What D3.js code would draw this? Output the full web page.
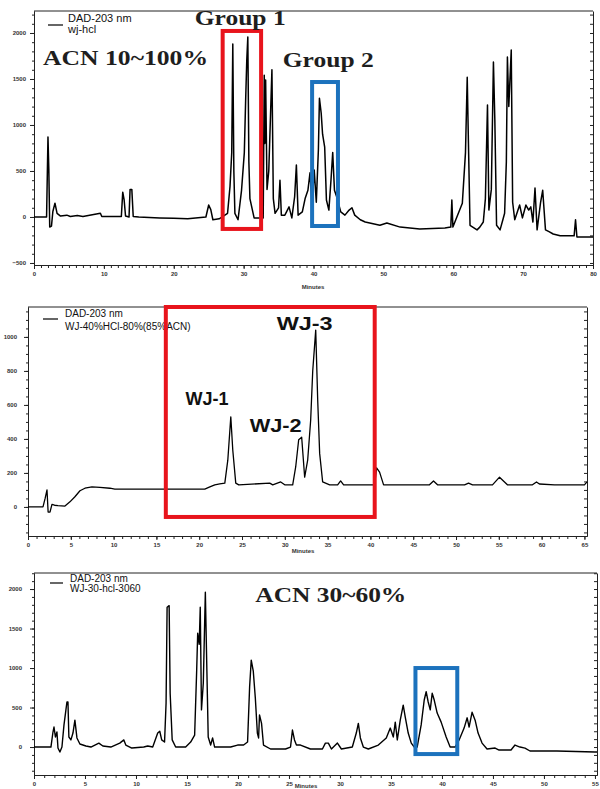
<!DOCTYPE html>
<html>
<head>
<meta charset="utf-8">
<script src="https://cdn.jsdelivr.net/npm/d3@7"></script>
<style>
body { margin: 0; background: #fff; }
.frame { fill: none; stroke: #222; stroke-width: 1; }
.trace { fill: none; stroke: #000; stroke-linejoin: round; }
.axis path, .axis line { stroke: #222; }
.axis text { font-family: "Liberation Sans", Arial, sans-serif; font-size: 6px; font-weight: bold; fill: #333; }
.legend { font-family: "Liberation Sans", Arial, sans-serif; fill: #111; }
.acn { font-family: "Liberation Serif", "Times New Roman", serif; font-weight: bold; font-size: 22px; fill: #1e1e1e; }
.peak { font-family: "Liberation Sans", Arial, sans-serif; font-weight: bold; font-size: 18px; fill: #111; }
.xtitle { font-family: "Liberation Sans", Arial, sans-serif; font-size: 6px; font-weight: bold; fill: #333; }
</style>
</head>
<body>
<script>
// Define SVG dimensions
var width = 600,
    height = 789;

// Chromatogram traces, [minutes, mAU]
var trace1 = [
  [0,0],[1.8,0],[2.0,870],[2.12,520],[2.25,-110],[2.5,-100],[2.7,60],[3.0,150],[3.3,40],[3.8,10],
  [4.7,20],[5.2,5],[6.2,15],[7.0,5],[9.5,40],[9.7,5],[12.5,5],[12.7,270],[12.9,185],[13.1,10],
  [13.6,0],[13.75,300],[14.0,300],[14.2,5],[15,0],[18,-10],[20,-15],[22,-20],[24.6,0],[25.0,130],
  [25.3,80],[25.6,-30],[26.5,-20],[27.7,40],[28.05,330],[28.3,700],[28.45,1880],[28.6,500],[28.75,40],
  [29.2,-30],[29.7,290],[30.1,700],[30.3,1300],[30.45,1700],[30.6,1956],[30.75,600],[30.9,200],
  [31.5,-10],[32.8,-10],[32.95,1540],[33.05,800],[33.15,1490],[33.35,300],[33.6,500],[34.05,1600],
  [34.25,200],[34.5,40],[35.0,100],[35.2,400],[35.4,20],[35.9,20],[36.5,110],[36.9,-10],[37.3,220],
  [37.55,565],[37.8,20],[38.4,55],[38.8,200],[39.2,290],[39.5,480],[39.8,120],[40.1,510],[40.4,160],
  [40.7,730],[40.85,1290],[41.1,1130],[41.3,900],[41.6,760],[41.85,185],[42.2,75],[42.5,400],[42.75,700],
  [43.0,290],[43.4,200],[43.9,55],[44.5,20],[45.1,75],[45.5,100],[45.9,20],[46.7,-30],[47.4,-55],
  [49.5,-90],[50.5,-65],[52.4,-110],[55.2,-130],[58.8,-120],[59.65,-110],[59.8,185],[59.95,-110],
  [61.3,150],[61.75,700],[62.0,1520],[62.15,900],[62.4,-90],[63.4,-140],[63.8,-110],[64.3,-55],
  [64.6,200],[64.9,1217],[65.1,75],[65.45,300],[65.75,1685],[65.95,1060],[66.2,-90],[66.7,-140],
  [67.1,-30],[67.35,40],[67.6,600],[67.75,1740],[67.95,1200],[68.3,1815],[68.5,160],[68.8,-30],
  [69.5,130],[69.9,-10],[70.4,130],[70.8,75],[71.1,110],[71.4,-55],[71.7,315],[72.0,-140],[72.5,160],
  [72.8,290],[73.2,-140],[73.7,-160],[74.3,-185],[75.3,-205],[77.3,-205],[77.5,-30],[77.7,-217],[80,-217]
];

var trace2 = [
  [0,0],[1.75,0],[2.0,50],[2.22,100],[2.35,-30],[2.57,-30],[2.8,15],[3.1,10],[3.5,8],[4.32,5],
  [4.9,30],[5.48,60],[6.07,95],[6.65,110],[7.47,118],[8.4,115],[9.57,110],[10.15,105],[15.4,105],
  [20.65,105],[21.24,118],[21.82,130],[22.4,135],[22.99,140],[23.34,275],[23.69,530],[23.92,335],
  [24.27,140],[24.62,130],[28.24,140],[28.59,130],[29.52,147],[29.99,130],[30.92,130],[31.27,235],
  [31.62,395],[31.97,410],[32.32,175],[32.67,275],[33.02,510],[33.26,800],[33.61,1040],[33.84,630],
  [34.07,315],[34.42,147],[35.24,130],[36.17,130],[36.52,153],[36.87,130],[40.49,130],[40.72,230],
  [41.07,205],[41.54,130],[46.9,130],[47.37,153],[47.84,130],[51.0,130],[51.46,140],[51.93,130],
  [54.26,130],[55.08,175],[56.0,130],[58.93,130],[59.4,147],[59.74,135],[61.5,130],[65.0,130],[65.3,147]
];

var trace3 = [
  [0,0],[1.66,0],[1.86,190],[1.96,253],[2.1,127],[2.25,190],[2.35,-13],[2.54,-63],[2.74,0],[2.94,280],
  [3.13,470],[3.23,570],[3.33,570],[3.42,127],[3.62,90],[3.82,177],[4.01,340],[4.21,115],[4.5,38],
  [5.09,13],[5.58,0],[6.36,50],[6.75,13],[7.53,0],[8.41,50],[8.81,90],[9.0,25],[9.59,-13],[10.76,0],
  [11.15,13],[11.64,0],[12.13,177],[12.33,200],[12.52,90],[12.8,63],[12.95,557],[13.05,1770],
  [13.25,1790],[13.35,680],[13.55,90],[13.89,0],[14.87,0],[15.36,63],[15.75,150],[15.95,970],
  [16.05,1440],[16.2,1300],[16.3,1770],[16.42,470],[16.6,810],[16.8,1960],[16.95,970],[17.08,127],
  [17.32,25],[17.51,115],[17.71,0],[19.28,0],[19.96,25],[20.55,25],[20.94,63],[21.14,760],[21.3,1100],
  [21.5,960],[21.7,620],[21.9,177],[22.02,115],[22.11,405],[22.31,300],[22.5,25],[23.19,-25],
  [24.66,-25],[25.15,0],[25.34,215],[25.54,90],[25.73,25],[26.13,25],[27.1,-25],[28.28,-25],[28.57,50],
  [28.86,50],[29.16,-25],[29.75,50],[30.14,-25],[31.21,0],[31.6,177],[31.8,300],[32.0,115],[32.29,0],
  [32.78,-25],[33.76,25],[34.54,115],[34.93,240],[35.23,127],[35.42,315],[35.62,90],[35.91,340],
  [36.2,530],[36.4,380],[36.69,177],[36.99,50],[37.28,0],[37.57,0],[37.96,280],[38.26,595],[38.45,700],
  [38.65,570],[38.85,470],[39.04,680],[39.24,595],[39.53,430],[39.92,315],[40.41,127],[40.8,0],
  [41.29,0],[41.68,90],[42.17,240],[42.47,370],[42.66,253],[42.95,440],[43.25,340],[43.54,177],
  [43.93,50],[44.42,-25],[45.21,-13],[45.6,-38],[46.77,-38],[47.16,25],[47.65,0],[48.14,-13],
  [48.63,-50],[51.27,-50],[55.0,-63],[55.2,-63]
];

// Tick labels
var xTicks1 = [0, 10, 20, 30, 40, 50, 60, 70, 80];
var yTicks1 = [-500, 0, 500, 1000, 1500, 2000];
var xTicks2 = [0, 5, 10, 15, 20, 25, 30, 35, 40, 45, 50, 55, 60, 65];
var yTicks2 = [0, 200, 400, 600, 800, 1000];
var xTicks3 = [0, 5, 10, 15, 20, 25, 30, 35, 40, 45, 50, 55];
var yTicks3 = [0, 500, 1000, 1500, 2000];

// Legend texts
var legend1 = ["DAD-203 nm", "wj-hcl"];
var legend2 = ["DAD-203 nm", "WJ-40%HCl-80%(85%ACN)"];
var legend3 = ["DAD-203 nm", "WJ-30-hcl-3060"];

// Highlight boxes [tStart, tEnd, vLow, vHigh]
var boxes1 = [[27.0, 32.5, -130, 2022], [39.8, 43.5, -98, 1467]];
var boxes2 = [[16.1, 40.5, -59, 1176]];
var boxes3 = [[37.4, 41.5, -89, 1000]];

// Annotations [text, t, v]
var notes1 = [["ACN 10~100%", 1.3, 1652], ["Group 1", 23.0, 2087], ["Group 2", 35.6, 1630]];
var notes2 = [["WJ-1", 18.4, 600], ["WJ-2", 25.9, 441], ["WJ-3", 29.05, 1041]];
var notes3 = [["ACN 30~60%", 21.7, 1836]];

// Panel layout
var panels = [
  { x0: 34, x1: 593, y0: 11, y1: 265, xDomain: [0, 80], yDomain: [-522, 2239], yMinor: 100, yPad: 4,
    lineW: 1.5, legendFont: 11, legendY: [11, 22], legendX: 34, legendLine: [14, 29, 14], titleX: 313, titleY: 289,
    boxColors: ["#e8141c", "#1c72bd"], noteClass: ["acn", "acn", "acn"], noteWidth: [165, 91, 91] },
  { x0: 28, x1: 587, y0: 307, y1: 536, xDomain: [0, 65.3], yDomain: [-171, 1176], yMinor: 50, yPad: 7,
    lineW: 1.3, legendFont: 10, legendY: [10, 23], legendX: 37, legendLine: [15, 30, 12], titleX: 303, titleY: 553,
    boxColors: ["#e8141c"], noteClass: ["peak", "peak", "peak"], noteWidth: [43, 52, 56] },
  { x0: 34, x1: 597, y0: 573, y1: 775, xDomain: [0, 55.2], yDomain: [-354, 2203], yMinor: 100, yPad: 8,
    lineW: 1.4, legendFont: 10, legendY: [9, 19], legendX: 36, legendLine: [16, 29, 10], titleX: 306, titleY: 788,
    boxColors: ["#1c72bd"], noteClass: ["acn"], noteWidth: [151] }
];

// Create SVG element
var svg = d3.select("body")
    .append("svg")
    .attr("width", width)
    .attr("height", height);

drawPanel(panels[0], trace1, xTicks1, yTicks1, legend1, boxes1, notes1);
drawPanel(panels[1], trace2, xTicks2, yTicks2, legend2, boxes2, notes2);
drawPanel(panels[2], trace3, xTicks3, yTicks3, legend3, boxes3, notes3);

function drawPanel(p, trace, xTicks, yTicks, legend, boxes, notes) {
    var x = d3.scaleLinear().domain(p.xDomain).range([p.x0, p.x1]);
    var y = d3.scaleLinear().domain(p.yDomain).range([p.y1, p.y0]);
    var g = svg.append("g");

    // top border
    g.append("line")
        .attr("class", "frame")
        .attr("x1", p.x0).attr("x2", p.x1)
        .attr("y1", p.y0).attr("y2", p.y0);

    var yMinorTicks = d3.range(Math.ceil(p.yDomain[0] / p.yMinor) * p.yMinor, p.yDomain[1], p.yMinor);
    var xMinorTicks = d3.range(0, p.xDomain[1], 1);

    // right border with inner minor ticks
    g.append("g")
        .attr("class", "axis")
        .attr("transform", "translate(" + p.x1 + ",0)")
        .call(d3.axisRight(y).tickValues(yMinorTicks).tickSize(-3).tickSizeOuter(0).tickFormat(""));

    // left axis
    g.append("g")
        .attr("class", "axis")
        .attr("transform", "translate(" + p.x0 + ",0)")
        .call(d3.axisLeft(y).tickValues(yMinorTicks).tickSize(2).tickSizeOuter(0).tickFormat(""));
    g.append("g")
        .attr("class", "axis")
        .attr("transform", "translate(" + p.x0 + ",0)")
        .call(d3.axisLeft(y).tickValues(yTicks).tickSize(4).tickSizeOuter(0).tickPadding(p.yPad).tickFormat(d3.format("d")));

    // bottom axis
    g.append("g")
        .attr("class", "axis")
        .attr("transform", "translate(0," + p.y1 + ")")
        .call(d3.axisBottom(x).tickValues(xMinorTicks).tickSize(3).tickSizeOuter(0).tickFormat(""));
    g.append("g")
        .attr("class", "axis")
        .attr("transform", "translate(0," + p.y1 + ")")
        .call(d3.axisBottom(x).tickValues(xTicks).tickSize(4).tickSizeOuter(0).tickPadding(3).tickFormat(d3.format("d")));
    g.selectAll(".axis text").attr("font-size", null).attr("font-family", null);

    g.append("text")
        .attr("class", "xtitle")
        .attr("x", p.titleX)
        .attr("y", p.titleY)
        .attr("text-anchor", "middle")
        .text("Minutes");

    // trace
    var line = d3.line()
        .x(function (d) { return x(d[0]); })
        .y(function (d) { return y(d[1]); });
    g.append("path")
        .datum(trace)
        .attr("class", "trace")
        .attr("stroke-width", p.lineW)
        .attr("d", line);

    // legend
    g.append("line")
        .attr("x1", p.x0 + p.legendLine[0]).attr("x2", p.x0 + p.legendLine[1])
        .attr("y1", p.y0 + p.legendLine[2]).attr("y2", p.y0 + p.legendLine[2])
        .attr("stroke", "#000").attr("stroke-width", 1.2);
    legend.forEach(function (t, i) {
        g.append("text")
            .attr("class", "legend")
            .attr("x", p.x0 + p.legendX)
            .attr("y", p.y0 + p.legendY[i])
            .attr("font-size", p.legendFont)
            .text(t);
    });

    // highlight boxes
    g.selectAll(".box")
        .data(boxes)
        .enter()
        .append("rect")
        .attr("class", "box")
        .attr("x", function (d) { return x(d[0]); })
        .attr("y", function (d) { return y(d[3]); })
        .attr("width", function (d) { return x(d[1]) - x(d[0]); })
        .attr("height", function (d) { return y(d[2]) - y(d[3]); })
        .attr("fill", "none")
        .attr("stroke", function (d, i) { return p.boxColors[i]; })
        .attr("stroke-width", 4);

    // annotations
    notes.forEach(function (n, i) {
        g.append("text")
            .attr("class", p.noteClass[i])
            .attr("x", x(n[1]))
            .attr("y", y(n[2]))
            .attr("textLength", p.noteWidth[i])
            .attr("lengthAdjust", "spacingAndGlyphs")
            .text(n[0]);
    });
}
</script>
</body>
</html>
